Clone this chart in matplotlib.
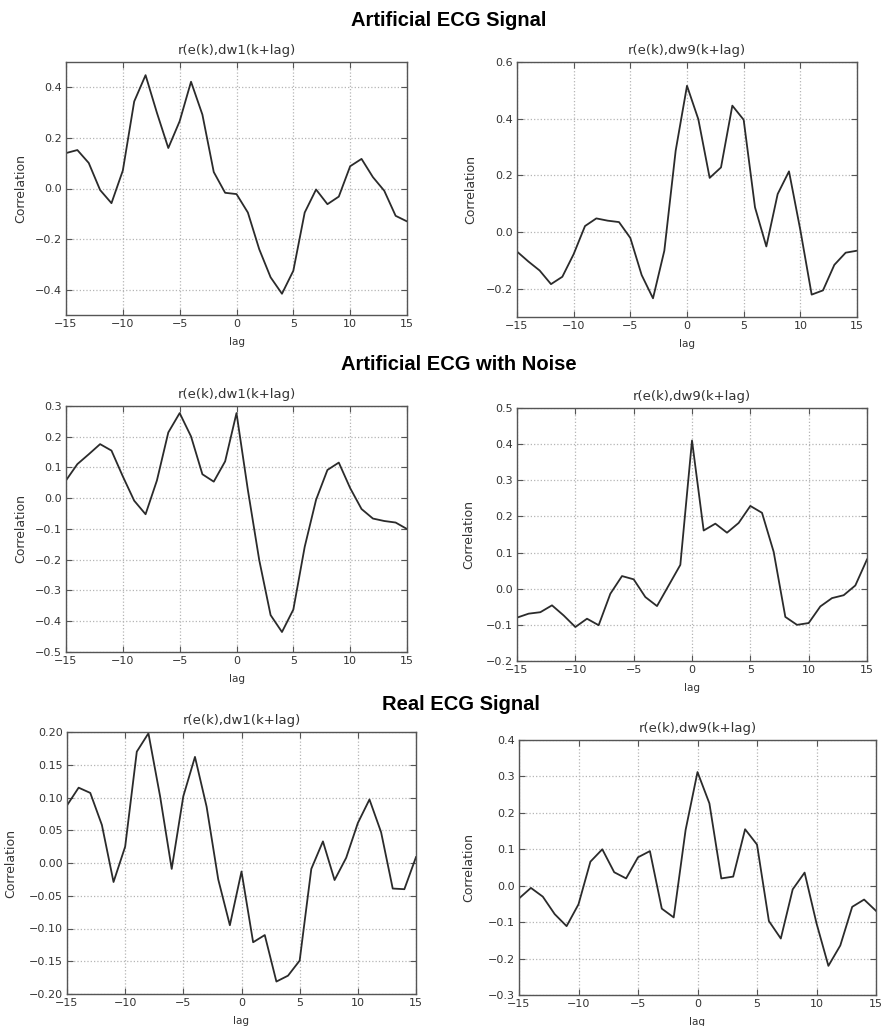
import matplotlib
matplotlib.use("Agg")
import matplotlib.pyplot as plt
from matplotlib.ticker import MultipleLocator

W, H = 881, 1026

lags = list(range(-15, 16))

# artificial ECG signal
clean_dw1 = [0.140, 0.152, 0.101, -0.006, -0.058, 0.071, 0.344, 0.448, 0.299, 0.160,
             0.266, 0.422, 0.292, 0.065, -0.017, -0.022, -0.095, -0.240, -0.351, -0.416,
             -0.325, -0.095, -0.004, -0.062, -0.032, 0.088, 0.117, 0.045, -0.009, -0.108,
             -0.130]
clean_dw9 = [-0.069, -0.104, -0.136, -0.184, -0.158, -0.078, 0.021, 0.048, 0.040, 0.035,
             -0.021, -0.152, -0.234, -0.066, 0.287, 0.516, 0.398, 0.191, 0.228, 0.446,
             0.396, 0.087, -0.051, 0.134, 0.214, 0.007, -0.221, -0.206, -0.116, -0.073,
             -0.066]

# artificial ECG with noise
noisy_dw1 = [0.058, 0.111, 0.143, 0.176, 0.155, 0.071, -0.008, -0.052, 0.058, 0.214,
             0.277, 0.201, 0.078, 0.054, 0.120, 0.277, 0.027, -0.201, -0.380, -0.435,
             -0.362, -0.158, -0.005, 0.092, 0.116, 0.033, -0.035, -0.066, -0.074, -0.079,
             -0.100]
noisy_dw9 = [-0.080, -0.069, -0.065, -0.046, -0.074, -0.106, -0.083, -0.101, -0.014, 0.035,
             0.026, -0.023, -0.048, 0.009, 0.066, 0.410, 0.161, 0.180, 0.155, 0.182,
             0.229, 0.210, 0.102, -0.078, -0.100, -0.095, -0.049, -0.026, -0.018, 0.009,
             0.081]

# real ECG signal
real_dw1 = [0.088, 0.115, 0.107, 0.058, -0.029, 0.025, 0.170, 0.198, 0.102, -0.009,
            0.102, 0.162, 0.086, -0.025, -0.095, -0.013, -0.121, -0.110, -0.181, -0.172,
            -0.149, -0.009, 0.033, -0.026, 0.008, 0.061, 0.097, 0.047, -0.039, -0.040,
            0.009]
real_dw9 = [-0.035, -0.006, -0.030, -0.078, -0.111, -0.051, 0.066, 0.100, 0.037, 0.020,
            0.078, 0.095, -0.063, -0.087, 0.153, 0.312, 0.226, 0.020, 0.025, 0.155,
            0.113, -0.097, -0.145, -0.010, 0.036, -0.103, -0.220, -0.164, -0.058, -0.038,
            -0.069]

section_titles = ["Artificial ECG Signal", "Artificial ECG with Noise", "Real ECG Signal"]
section_y = [20, 365, 705]
section_x = [449, 459, 461]

titles = ["r(e(k),dw1(k+lag)", "r(e(k),dw9(k+lag)"]

# (series, ylim, ystep, pixel box left/top/right/bottom, ylabel x offset px, title idx)
panels = [
    (clean_dw1, (-0.5, 0.5), 0.2, (66, 62, 407, 315), -39, 0),
    (clean_dw9, (-0.3, 0.6), 0.2, (517, 62, 857, 317), -40, 1),
    (noisy_dw1, (-0.5, 0.3), 0.1, (66, 406, 407, 652), -39, 0),
    (noisy_dw9, (-0.2, 0.5), 0.1, (517, 408, 867, 661), -42, 1),
    (real_dw1, (-0.2, 0.2), 0.05, (67, 732, 416, 994), -50, 0),
    (real_dw9, (-0.3, 0.4), 0.1, (519, 740, 876, 995), -44, 1),
]

fig = plt.figure(figsize=(W / 100, H / 100), dpi=100)
fig.patch.set_facecolor("white")

for vals, ylim, ystep, box, ylab_dx, t in panels:
    l, top, r, b = box
    ax = fig.add_axes([l / W, 1 - b / H, (r - l) / W, (b - top) / H])
    ax.plot(lags, vals, color="#2b2b2b", lw=1.3)
    ax.set_xlim(-15, 15)
    ax.set_ylim(*ylim)
    ax.xaxis.set_major_locator(MultipleLocator(5))
    ax.yaxis.set_major_locator(MultipleLocator(ystep))
    ax.grid(True, color="#b5b5b5", ls=":", lw=0.9)
    ax.tick_params(direction="in", top=True, right=True, length=4, width=0.8,
                   color="#555555", labelsize=8, labelcolor="#333333", pad=3)
    for sp in ax.spines.values():
        sp.set_color("#555555")
        sp.set_linewidth(1.0)
    ax.set_title(titles[t], fontsize=9.5, color="#333333", pad=6)
    ax.set_ylabel("Correlation", fontsize=9, color="#333333")
    ax.yaxis.set_label_coords(ylab_dx / (r - l), 0.5)
    ax.set_xlabel("lag", fontsize=7.5, color="#333333")
    ax.xaxis.set_label_coords(0.5, -22 / (b - top))

for txt, x, y in zip(section_titles, section_x, section_y):
    fig.text(x / W, 1 - y / H, txt, ha="center", va="center", fontsize=14.5,
             fontweight="bold", family=["Liberation Sans", "DejaVu Sans"], color="black")

fig.savefig("out.png", dpi=100)
